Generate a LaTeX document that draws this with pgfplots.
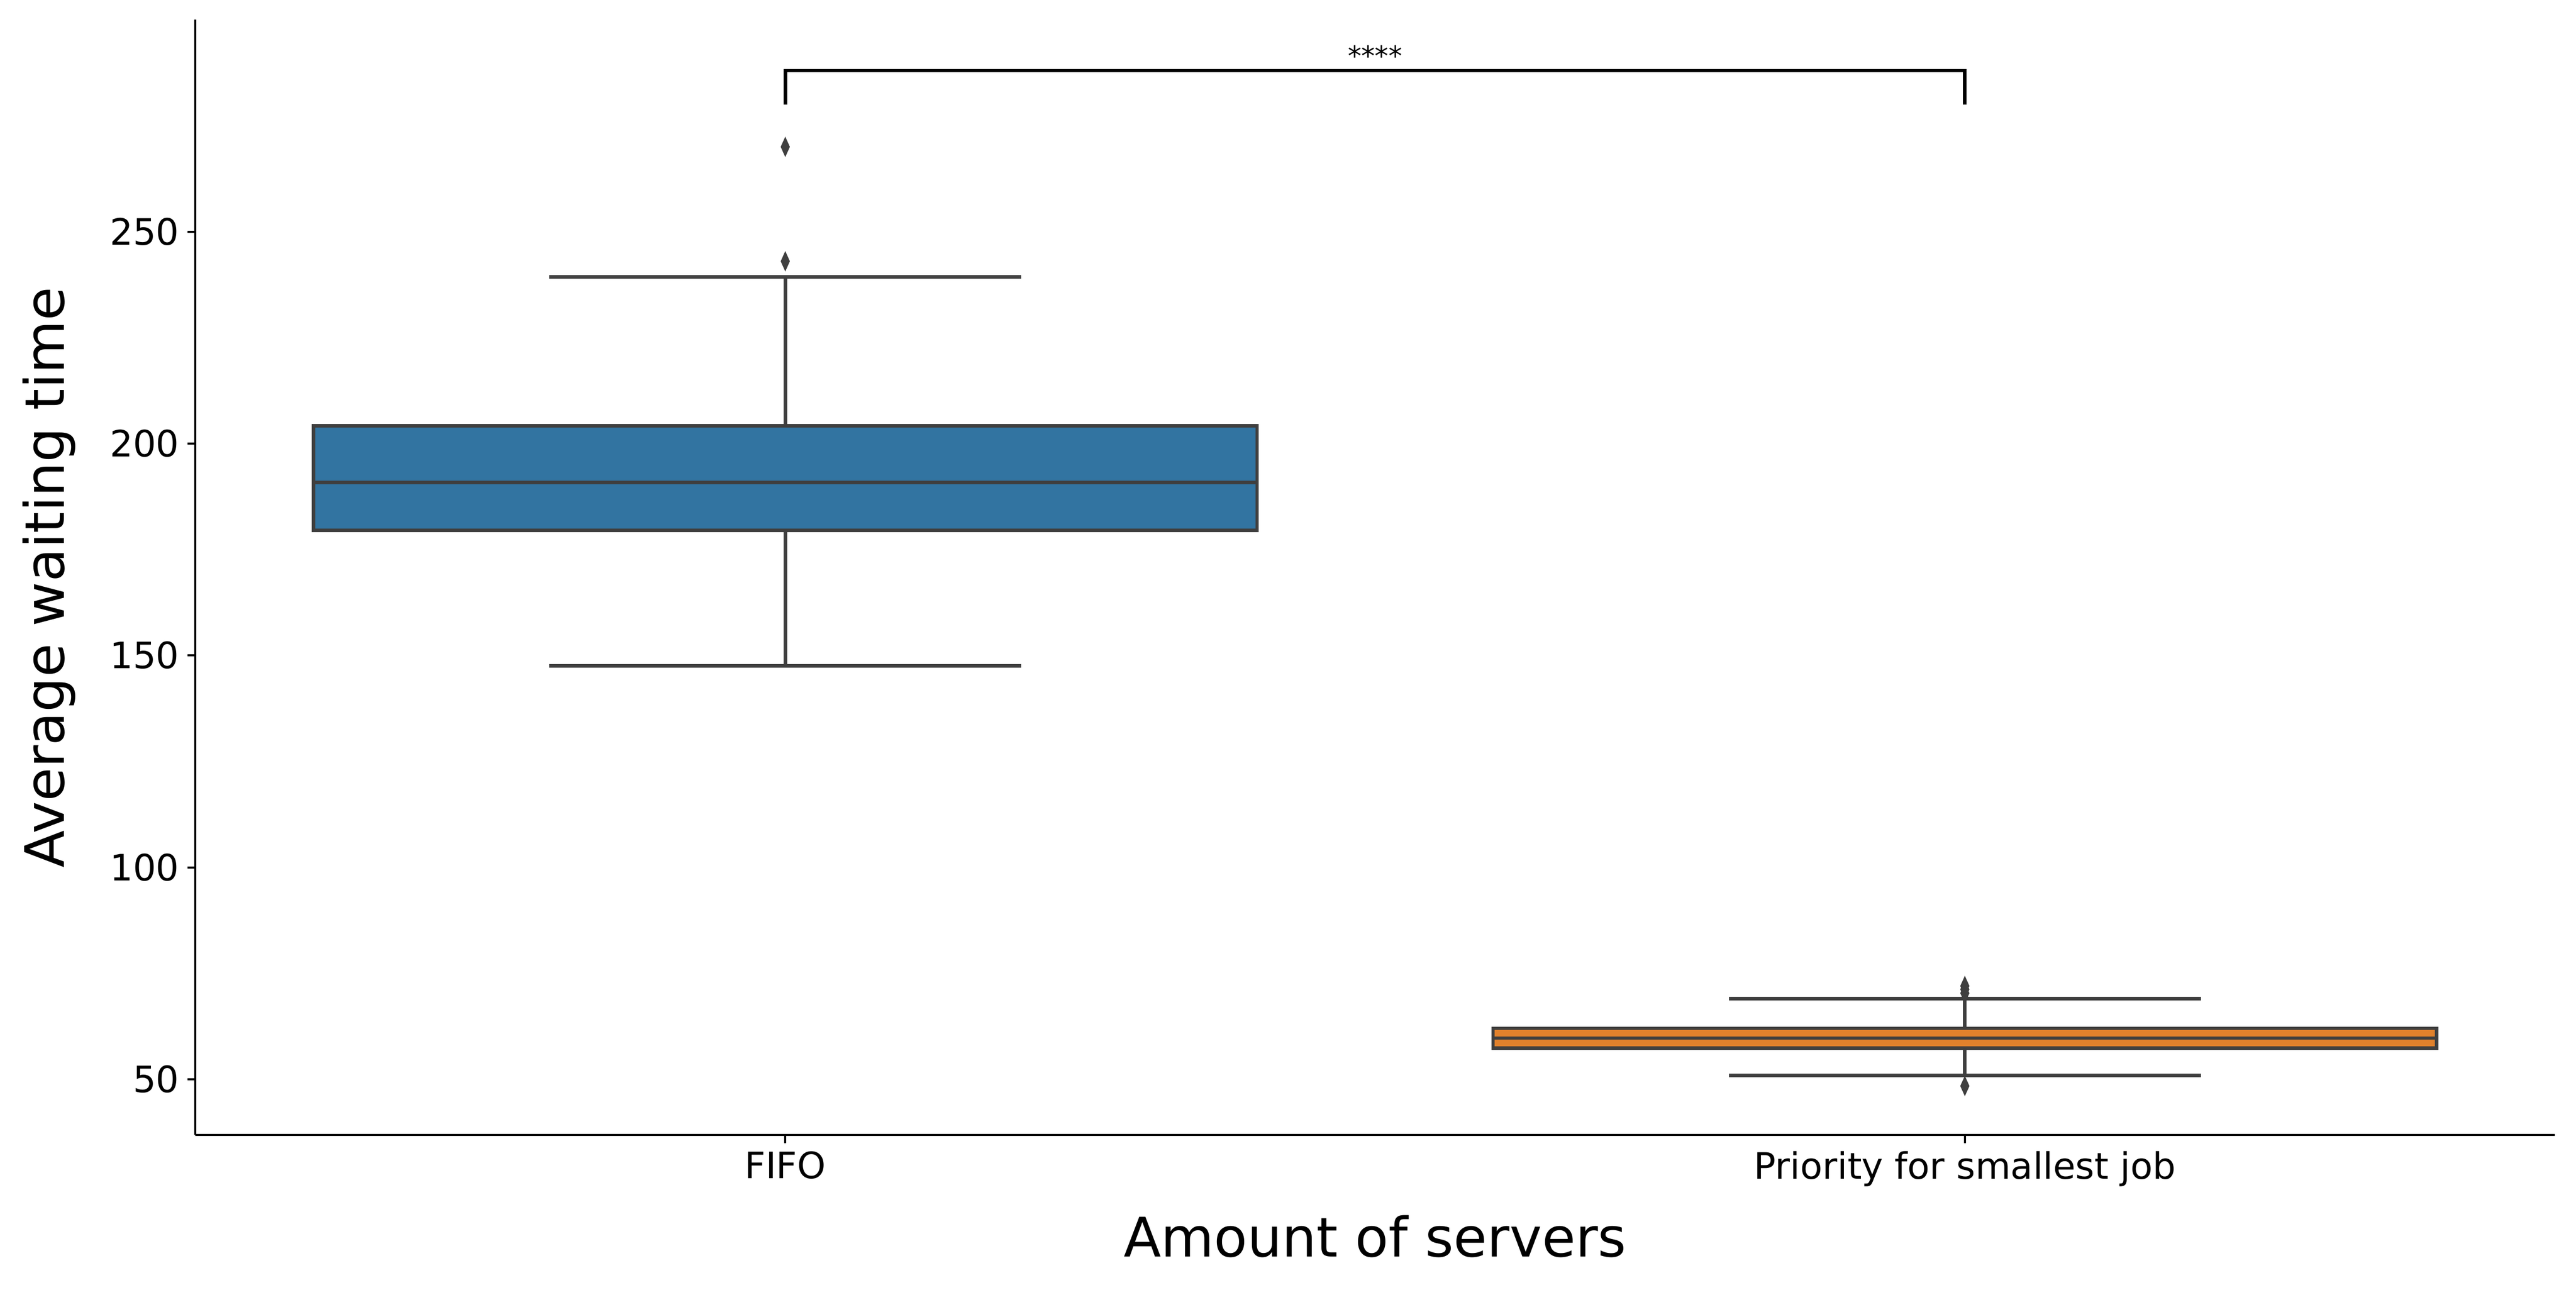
\documentclass[border=0pt]{standalone}
\usepackage{pgfplots}
\pgfplotsset{compat=1.18}
\usepgfplotslibrary{statistics}
\usepackage{fontspec}
\setmainfont{DejaVu Sans}
\definecolor{sbblue}{HTML}{3274A1}
\definecolor{sborange}{HTML}{E1812C}
\definecolor{edge}{HTML}{3F3F3F}
\begin{document}
\begin{tikzpicture}
\begin{axis}[at={(0,0)},anchor=south west,
  scale only axis, width=14.36in, height=6.79in,
  xmin=-0.5, xmax=1.5, ymin=36.8, ymax=300,
  axis lines*=left, axis line style={line width=0.9pt},
  xtick={0,1}, xticklabels={FIFO, Priority for smallest job},
  ytick={50,100,150,200,250},
  tick align=outside, major tick length=0.05in, tick style={black, line width=0.9pt},
  /pgf/number format/assume math mode=true,
  ticklabel style={font=\fontsize{16}{19}\selectfont},
  xlabel={Amount of servers}, ylabel={Average waiting time},
  label style={font=\fontsize{24}{28}\selectfont},
  xlabel style={at={(axis description cs:0.5,-0.091)},anchor=center},
  ylabel style={at={(axis description cs:-0.062,0.5)},anchor=center},
  boxplot/draw direction=y, boxplot/box extend=0.8, boxplot/whisker extend=0.4,
  clip=false]
\addplot[draw=edge, line width=1.5pt, fill=sbblue, solid,
  boxplot prepared={draw position=0, lower whisker=147.5, lower quartile=179.5,
  median=190.8, upper quartile=204.2, upper whisker=239.3}] coordinates {};
\addplot[draw=edge, line width=1.5pt, fill=sborange, solid,
  boxplot prepared={draw position=1, lower whisker=50.9, lower quartile=57.3,
  median=59.7, upper quartile=62, upper whisker=69}] coordinates {};
\addplot[only marks, mark=diamond*, mark size=4pt, mark options={xscale=0.6, fill=edge, draw=edge}]
  coordinates {(0,243) (0,270) (1,72) (1,71.2) (1,70.3) (1,48.4)};
\draw[black, line width=1.5pt] (axis cs:0,280) -- (axis cs:0,288) -- (axis cs:1,288) -- (axis cs:1,280);
\node[anchor=south, font=\fontsize{12}{14}\selectfont, inner sep=2pt] at (axis cs:0.5,288) {****};
\end{axis}
\pgfresetboundingbox
\path (-1.19in,-0.94in) rectangle (14.49in,6.91in);
\end{tikzpicture}
\end{document}
